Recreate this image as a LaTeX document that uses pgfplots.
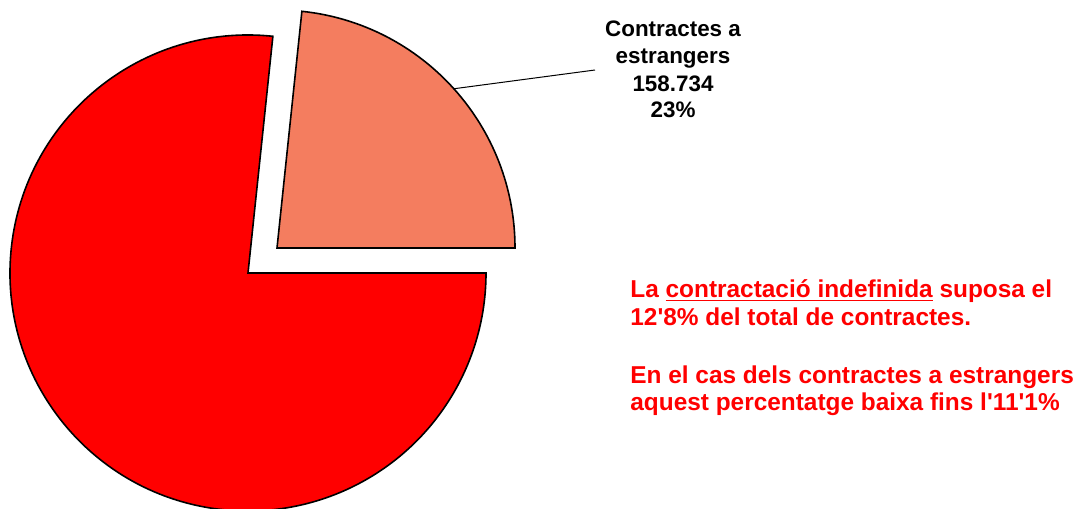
\documentclass[border=0pt]{standalone}
\usepackage{pgfplots}
\pgfplotsset{compat=1.18}
\usepackage{fontspec}
\setmainfont{Liberation Sans}[Ligatures=TeXOff]
\definecolor{pieRed}{RGB}{255,0,0}
\definecolor{hatch}{RGB}{244,125,95}
% values in thousands of contracts
\def\valEstr{158.734}
\def\valRest{521.600}
\begin{document}
\begin{tikzpicture}
\clip (0,0) rectangle (540pt,254pt);
\begin{axis}[
  at={(0,0)}, anchor=south west,
  width=540pt, height=254pt, scale only axis,
  xmin=0, xmax=1080, ymin=0, ymax=508,
  y dir=reverse, hide axis, clip=false,
]
\pgfmathsetmacro{\fracA}{\valEstr/(\valEstr+\valRest)}
\pgfmathsetmacro{\angA}{360*\fracA}
\pgfmathsetmacro{\angMid}{\angA/2}
% main slice
\filldraw[fill=pieRed, draw=black, line width=0.8pt, line join=miter]
  (axis cs:248,273) -- ++(\angA:119pt) arc[start angle=\angA, end angle=360, radius=119pt] -- cycle;
% exploded slice
\filldraw[fill=hatch, draw=black, line width=0.8pt, line join=miter]
  (axis cs:277,248) -- ++(0:119pt) arc[start angle=0, end angle=\angA, radius=119pt] -- cycle;
% leader
\draw[black, line width=0.5pt] (axis cs:277,248) ++(\angMid:119pt) -- (axis cs:595,70);
% label
\begin{scope}[every node/.style={font=\fontsize{11.2pt}{13.5pt}\selectfont\bfseries, inner sep=0pt, anchor=base}]
\node at (axis cs:673,37) {Contractes a};
\node at (axis cs:673,64) {estrangers};
\node at (axis cs:673,91) {158.734};
\node at (axis cs:673,118) {23\%};
\end{scope}
\begin{scope}[every node/.style={font=\fontsize{12.2pt}{15pt}\selectfont\bfseries, text=pieRed, inner sep=0pt, anchor=base west}]
\node at (axis cs:630,297) {La \underline{contractació indefinida} suposa el};
\node at (axis cs:630,325) {12'8\% del total de contractes.};
\node at (axis cs:630,383) {En el cas dels contractes a estrangers};
\node at (axis cs:630,410) {aquest percentatge baixa fins l'11'1\%};
\end{scope}
\end{axis}
\end{tikzpicture}
\end{document}
